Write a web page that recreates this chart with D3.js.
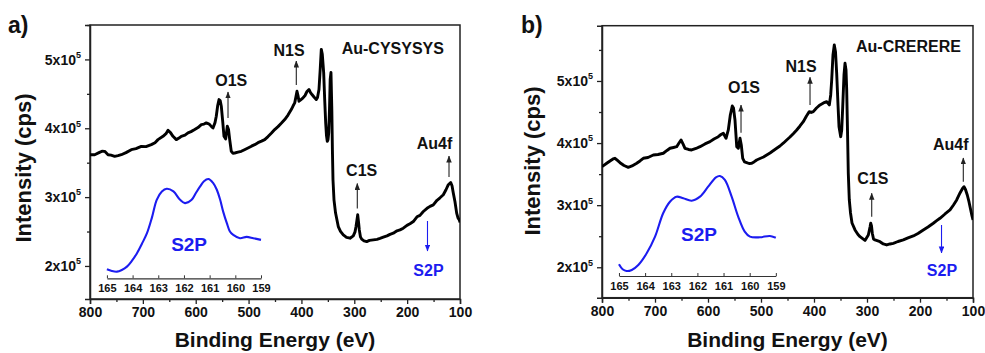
<!DOCTYPE html>
<html><head><meta charset="utf-8">
<script src="https://cdn.jsdelivr.net/npm/d3@7"></script>
<style>
body{margin:0;background:#fff}
svg{display:block}
text{font-family:Arial,"Liberation Sans",sans-serif;font-weight:bold;fill:#111}
</style>
</head><body>
<svg id="chart" width="985" height="353"></svg>
<script>
// ---------- DATA (binding energy eV, intensity in 10^3 cps) ----------
const surveyA = [
[800,361.6],[791.1,361.6],[783.0,364.6],[777.3,366.7],[772.2,366.5],[765.9,361.6],[760.3,360.9],[753.3,359.2],[747.0,360.2],[740.8,361.6],
[731.9,364.6],[721.9,368.9],[713.0,370.4],[702.9,373.7],[694.1,373.3],[684.0,376.2],[677.0,379.1],[671.4,383.5],[661.9,388.3],[656.2,392.2],
[652.4,397.0],[647.7,393.7],[643.0,388.3],[636.7,383.5],[631.6,385.7],[627.3,388.3],[620.3,390.0],[614.6,393.3],[608.9,395.1],[601.9,398.1],
[595.7,401.0],[589.4,405.3],[584.3,406.1],[580.0,407.8],[576.8,406.8],[573.5,405.3],[570.1,402.4],[567.3,400.5],[563.5,408.2],[561.1,417.4],
[558.4,433.0],[555.9,441.7],[553.7,440.3],[551.6,432.0],[548.9,409.7],[546.5,388.3],[543.3,384.5],[540.2,402.9],[537.9,398.1],[535.7,383.5],
[532.7,366.5],[529.5,363.8],[526.2,364.1],[520.0,365.3],[513.8,366.5],[507.7,368.9],[501.1,371.4],[494.5,374.0],[488.4,376.2],[482.2,379.1],
[475.5,381.3],[469.5,383.5],[463.2,387.9],[456.6,393.0],[450.6,398.1],[444.3,402.4],[437.7,407.5],[431.6,412.6],[425.4,419.2],[419.2,427.2],
[415.9,432.3],[412.7,436.9],[410.3,446.1],[408.4,453.8],[406.5,447.6],[404.6,439.3],[400.8,441.7],[397.0,444.2],[393.2,447.6],[389.5,453.4],
[385.7,456.3],[382.8,451.9],[380.0,449.0],[376.2,445.4],[371.9,441.7],[369.6,444.7],[366.8,456.3],[364.5,485.4],[362.4,514.6],[360.5,507.3],
[357.9,480.6],[356.0,441.7],[354.1,407.8],[352.6,389.3],[351.1,381.0],[349.7,383.5],[348.4,393.3],[346.9,427.2],[345.6,470.9],[344.1,481.1],
[342.5,427.2],[341.4,368.9],[340.3,325.2],[338.4,296.1],[335.5,277.2],[330.3,257.2],[326.1,250.2],[320.8,245.1],[314.7,241.5],[308.1,240.3],
[301.9,243.7],[298.6,249.5],[296.7,257.2],[293.5,274.3],[292.0,264.1],[290.5,252.4],[288.3,242.2],[286.0,238.9],[281.6,236.4],[276.5,235.4],
[271.3,237.1],[264.0,237.9],[257.0,238.6],[251.4,240.0],[245.1,241.8],[238.1,243.7],[232.4,245.9],[226.2,247.6],[219.2,251.0],[213.5,252.4],
[207.3,254.9],[200.3,259.0],[194.6,261.2],[188.3,264.5],[181.4,271.4],[175.7,273.5],[169.4,279.1],[162.4,283.7],[156.7,286.6],[150.5,288.8],
[143.5,295.4],[137.8,299.0],[131.6,303.4],[126.5,310.7],[122.1,318.0],[117.6,321.3],[115.1,316.5],[112.7,305.9],[109.5,293.2],[106.3,276.7],
[103.8,269.9],[101.3,267.0],[100.0,263.1]
];
const surveyB = [
[800,362.0],[791.1,367.5],[784.9,371.2],[779.2,374.4],[775.5,375.5],[770.8,372.0],[766.0,368.4],[758.5,363.9],[750.4,361.0],[743.4,363.1],
[734.5,367.5],[728.3,371.2],[722.1,375.5],[713.2,376.8],[703.2,380.8],[694.3,381.6],[684.3,383.6],[677.4,388.1],[671.7,391.6],[665.1,392.9],
[659.1,394.2],[654.7,400.2],[650.9,405.0],[647.2,398.6],[643.4,391.6],[636.8,389.7],[630.8,388.9],[622.6,391.3],[615.1,394.2],[605.7,398.6],
[596.2,402.3],[588.7,406.6],[580.6,410.3],[575.5,413.8],[571.1,415.8],[566.0,407.7],[561.7,421.1],[557.9,445.2],[554.2,459.7],[551.9,456.5],
[549.1,437.2],[545.8,394.2],[542.8,391.6],[539.6,407.7],[537.2,396.9],[534.5,375.5],[531.1,369.6],[527.0,368.4],[522.6,367.1],[517.5,367.5],
[513.2,369.6],[508.1,372.8],[501.9,375.2],[495.3,377.6],[489.2,380.8],[483.0,384.1],[476.4,388.1],[470.4,391.6],[464.2,395.3],[457.5,400.2],
[451.5,405.0],[445.3,409.8],[438.7,415.5],[432.6,421.1],[426.4,427.5],[420.2,434.4],[414.2,443.6],[408.9,450.6],[405.1,449.3],[401.3,450.6],
[395.3,456.5],[388.7,461.4],[382.1,464.6],[376.0,466.7],[371.1,461.4],[368.5,477.5],[366.6,501.6],[364.2,541.9],[361.7,558.0],[359.4,546.7],
[357.2,512.4],[354.7,461.4],[352.8,426.4],[349.6,410.3],[347.7,421.1],[345.8,458.6],[343.4,509.7],[341.5,528.5],[339.6,517.7],[338.3,485.5],
[336.8,421.1],[335.3,351.4],[333.4,308.4],[331.1,287.4],[328.3,271.3],[322.6,260.1],[317.0,252.8],[313.2,249.3],[303.8,243.2],[297.5,252.0],
[294.3,264.9],[293.0,270.9],[291.5,266.5],[290.0,254.8],[287.7,245.6],[284.9,244.0],[275.5,241.2],[269.2,237.5],[262.8,235.9],[256.6,237.5],
[250.4,238.6],[241.5,241.5],[231.5,244.0],[222.6,247.2],[212.6,250.4],[203.8,254.4],[193.8,260.1],[184.9,264.9],[174.9,270.9],[167.9,275.4],
[162.3,278.9],[152.8,285.8],[143.4,292.3],[136.8,300.3],[130.8,308.4],[124.5,319.7],[119.8,326.9],[117.0,329.8],[114.2,325.3],[110.8,316.4],
[107.5,305.2],[104.3,292.3],[101.9,282.6],[100.0,276.2]
];
// S2p high-resolution insets (binding energy eV, intensity drawn on the panel's intensity scale)
const insetA = [
[165.00,195.2],[164.81,192.7],[164.61,191.7],[164.42,194.2],[164.22,199.0],[164.03,207.3],[163.83,218.5],[163.64,232.0],[163.44,247.6],[163.25,269.9],
[163.06,296.1],[162.86,308.2],[162.67,312.1],[162.41,308.2],[162.15,296.1],[161.96,291.3],[161.70,296.1],[161.53,306.3],[161.37,315.5],[161.22,323.1],
[161.05,326.3],[160.86,320.4],[160.72,310.7],[160.59,296.1],[160.47,278.6],[160.33,262.2],[160.21,250.0],[160.08,245.1],[159.82,240.3],[159.56,242.2],
[159.30,240.3],[159.00,237.9]
];
const insetB = [
[165.00,204.8],[164.86,196.8],[164.71,194.0],[164.51,195.7],[164.26,203.7],[163.94,222.5],[163.62,249.3],[163.31,287.0],[163.05,305.6],[162.80,313.7],
[162.54,311.1],[162.22,307.2],[161.90,313.7],[161.59,329.8],[161.29,344.9],[161.14,347.0],[160.95,340.6],[160.69,313.7],[160.44,281.5],[160.19,257.3],
[159.99,249.3],[159.61,248.3],[159.23,250.4],[159.00,247.7]
];
const xTicks = [800,700,600,500,400,300,200,100];
const xMinorTicks = [750,650,550,450,350,250,150];
const yTicks = [200,300,400,500];
const yMinorTicks = [250,350,450,550];
const insetTicks = [165,164,163,162,161,160,159];
const panelLabels = ['a)','b)'];
const sampleNames = ['Au-CYSYSYS','Au-CRERERE'];
const peakLabels = ['O1S','N1S','C1S','Au4f','S2P'];
const xTitle = 'Binding Energy (eV)';
const yTitle = 'Intensity (cps)';

// annotation anchors in data coordinates (eV, 10^3 cps)
const annotationsA = [
  {labelE:532.7, labelI:461.4, arrowE:538.9, from:414.9, to:452.7},
  {labelE:423.5, labelI:505.0, arrowE:409.7, from:462.9, to:497.7},
  {labelE:286.0, labelI:330.7, arrowE:294.3, from:283.5, to:319.8},
  {labelE:148.2, labelI:369.9, arrowE:120.8, from:329.2, to:359.7},
  {labelE:159.6, labelI:185.4, arrowE:161.5, from:265.3, to:221.7}
];
const annotationsB = [
  {labelE:532.1, labelI:480.6, arrowE:537.7, from:416.7, to:461.3},
  {labelE:424.5, labelI:514.9, arrowE:407.5, from:461.3, to:505.9},
  {labelE:289.1, labelI:334.1, arrowE:291.1, from:281.4, to:319.1},
  {labelE:141.9, labelI:388.8, arrowE:118.3, from:337.8, to:376.0},
  {labelE:158.5, labelI:185.9, arrowE:159.4, from:268.1, to:223.0}
];

// ---------- LAYOUT ----------
const BLUE = '#1c1cf0';
const panels = [
  {label:panelLabels[0], sample:sampleNames[0], survey:surveyA, inset:insetA, ann:annotationsA,
   left:90, right:460, top:25, bottom:299, yDomain:[152,550],
   insetRange:[768,476.5], insetAxisUp:20.7, insetLabel:[161.8,221.7],
   sampleAt:[323.8,507.9], labelX:8, yTitleX:30.5, yTitleY:168, xTitleX:275},
  {label:panelLabels[1], sample:sampleNames[1], survey:surveyB, inset:insetB, ann:annotationsB,
   left:602, right:973, top:25.7, bottom:297.7, yDomain:[151,589],
   insetRange:[768,472], insetAxisUp:21.7, insetLabel:[161.94,242.3],
   sampleAt:[320.8,546.7], labelX:521, yTitleX:540, yTitleY:161, xTitleX:787.5}
];

const svg = d3.select('#chart');
const defs = svg.append('defs');
[['arrK','#222'],['arrB',BLUE]].forEach(([id,c])=>{
  defs.append('marker').attr('id',id).attr('markerUnits','userSpaceOnUse')
    .attr('markerWidth',7).attr('markerHeight',6).attr('refX',6.5).attr('refY',2.75)
    .attr('orient','auto')
    .append('path').attr('d','M0,0 L7,2.75 L0,5.5 Z').attr('fill',c);
});

panels.forEach((p,pi)=>{
  const g = svg.append('g');
  const x = d3.scaleLinear().domain([800,100]).range([p.left,p.right]);
  const y = d3.scaleLinear().domain(p.yDomain).range([p.bottom,p.top]);

  // x axis
  const xa = g.append('g').attr('transform',`translate(0,${p.bottom})`)
    .call(d3.axisBottom(x).tickValues(xTicks).tickSize(5).tickPadding(3).tickFormat(d3.format('d')));
  xa.selectAll('text').attr('font-size',14).attr('font-family','Arial,"Liberation Sans",sans-serif').attr('font-weight','bold').attr('fill','#111');
  g.append('g').attr('transform',`translate(0,${p.bottom})`)
    .call(d3.axisBottom(x).tickValues(xMinorTicks).tickSize(3).tickFormat(''))
    .select('.domain').remove();
  // y axis
  const ya = g.append('g').attr('transform',`translate(${p.left},0)`)
    .call(d3.axisLeft(y).tickValues(yTicks).tickSize(5).tickFormat(''));
  ya.selectAll('.tick').append('text')
    .attr('x',-9).attr('dy','0.33em').attr('text-anchor','end').attr('font-size',14)
    .attr('font-family','Arial,"Liberation Sans",sans-serif').attr('font-weight','bold').attr('fill','#111')
    .each(function(d){
      const t = d3.select(this);
      t.append('tspan').text(`${d/100}x10`);
      t.append('tspan').attr('font-size',9).attr('dy','-0.75em').text('5');
    });
  g.append('g').attr('transform',`translate(${p.left},0)`)
    .call(d3.axisLeft(y).tickValues(yMinorTicks).tickSize(3).tickFormat(''))
    .select('.domain').remove();
  g.selectAll('.tick line').attr('stroke','#222').attr('stroke-width',1.3);
  g.selectAll('.domain').attr('stroke','#222').attr('stroke-width',1.5);

  // frame
  g.append('rect').attr('x',p.left).attr('y',p.top).attr('width',p.right-p.left).attr('height',p.bottom-p.top)
    .attr('fill','none').attr('stroke','#222').attr('stroke-width',1.5);

  // survey spectrum
  const clipId = 'clip'+pi;
  defs.append('clipPath').attr('id',clipId).append('rect')
    .attr('x',p.left).attr('y',p.top).attr('width',p.right-p.left).attr('height',p.bottom-p.top);
  g.append('path').datum(p.survey).attr('clip-path',`url(#${clipId})`)
    .attr('d',d3.line().x(d=>x(d[0])).y(d=>y(d[1])))
    .attr('fill','none').attr('stroke','#000').attr('stroke-width',2.9).attr('stroke-linejoin','round');

  // inset
  const xi = d3.scaleLinear().domain([165,159]).range([x(p.insetRange[0]),x(p.insetRange[1])]);
  const iy = p.bottom - p.insetAxisUp;
  const ia = g.append('g').attr('transform',`translate(0,${iy})`)
    .call(d3.axisBottom(xi).tickValues(insetTicks).tickSizeInner(-3).tickSizeOuter(0).tickPadding(5.8).tickFormat(d3.format('d')));
  ia.selectAll('text').attr('font-size',11).attr('font-family','Arial,"Liberation Sans",sans-serif').attr('font-weight','bold').attr('fill','#111');
  ia.selectAll('line').attr('stroke','#333').attr('stroke-width',1);
  ia.select('.domain').attr('stroke','#333').attr('stroke-width',1.2);
  g.append('path').datum(p.inset)
    .attr('d',d3.line().x(d=>xi(d[0])).y(d=>y(d[1])).curve(d3.curveCatmullRom))
    .attr('fill','none').attr('stroke',BLUE).attr('stroke-width',2.1);
  g.append('text').attr('x',xi(p.insetLabel[0])).attr('y',y(p.insetLabel[1]))
    .attr('text-anchor','middle').attr('font-size',19).style('fill',BLUE).text(peakLabels[4]);

  // annotations
  p.ann.forEach((a,i)=>{
    const blue = i===4;
    g.append('line').attr('x1',x(a.arrowE)).attr('x2',x(a.arrowE))
      .attr('y1',y(a.from)).attr('y2',y(a.to))
      .attr('stroke',blue?BLUE:'#222').attr('stroke-width',1.1)
      .attr('marker-end',`url(#${blue?'arrB':'arrK'})`);
    g.append('text').attr('x',x(a.labelE)).attr('y',y(a.labelI)).attr('text-anchor','middle')
      .attr('font-size',16).style('fill',blue?BLUE:'#111').text(peakLabels[i]);
  });
  g.append('text').attr('x',x(p.sampleAt[0])).attr('y',y(p.sampleAt[1]))
    .attr('font-size',16).text(p.sample);

  // titles
  g.append('text').attr('x',p.labelX).attr('y',33).attr('font-size',23).text(p.label);
  g.append('text').attr('transform',`translate(${p.yTitleX},${p.yTitleY}) rotate(-90)`)
    .attr('text-anchor','middle').attr('font-size',22).text(yTitle);
  g.append('text').attr('x',p.xTitleX).attr('y',347).attr('text-anchor','middle')
    .attr('font-size',21).text(xTitle);
});
</script>
</body></html>
